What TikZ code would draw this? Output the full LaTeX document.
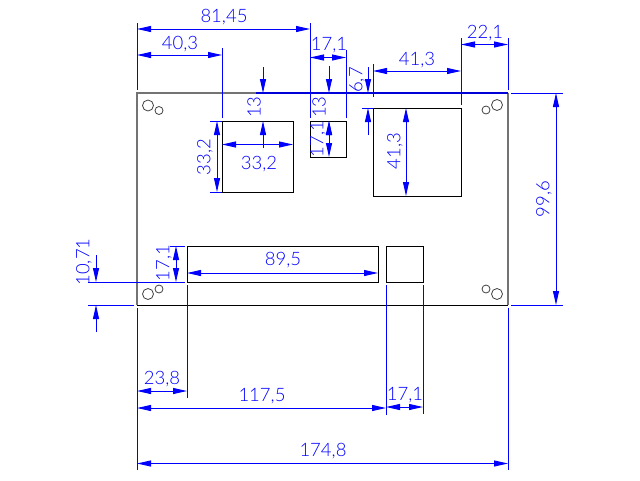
\documentclass[tikz,border=0pt]{standalone}
\usepackage{fontspec}
\setmainfont{Lato Light}
\usetikzlibrary{arrows.meta}
\tikzset{
  dimline/.style={blue,line width=1pt,{Triangle[length=14pt,width=6pt]}-{Triangle[length=14pt,width=6pt]}},
  leader/.style={blue,line width=1pt,-{Triangle[length=14pt,width=6pt]}},
  extline/.style={blue,line width=1pt},
  part/.style={black,line width=1pt},
  hole/.style={black!75,line width=0.8pt},
  dimtext/.style={blue,font=\fontsize{18.5}{19}\selectfont,inner sep=0pt},
  dimvert/.style={dimtext,rotate=90}
}
\begin{document}
\begin{tikzpicture}[x=1pt,y=-1pt]
\useasboundingbox (0,0) rectangle (640,480);
% board
\draw[black!55,line width=1.2pt] (137,305) -- (137,93) -- (256,93);
\draw[black!55,line width=1.2pt] (508,93) -- (508,305);
\draw[part] (137,305) -- (508,305);
\draw[blue!85!black,line width=1.2pt] (256,93) -- (508,93);
% parts
\draw[part] (222,121) rectangle (293,192);
\draw[part] (310,121) rectangle (346,157);
\draw[part] (373,108) rectangle (461,196);
\draw[part] (187,246) rectangle (378,282);
\draw[part] (386,246) rectangle (423,282);
% mounting holes
\foreach \xa/\ya/\xb/\yb in {148/105.5/159/110.5, 497/105/486/110, 148/294/159/289, 497/294/486/289}{
  \draw[hole] (\xa,\ya) circle (5.5);
  \draw[hole] (\xb,\yb) circle (4);
}
% extension lines top
\draw[extline] (137,23) -- (137,90);
\draw[extline] (310,23) -- (310,118);
\draw[extline] (222,48) -- (222,118);
\draw[extline] (346,50) -- (346,118);
\draw[extline] (373,64) -- (373,97);
\draw[extline] (461,38) -- (461,105);
\draw[extline] (508,38) -- (508,90);
% extension lines bottom
\draw[extline] (137,308) -- (137,470);
\draw[extline] (187,285) -- (187,398);
\draw[extline] (386,285) -- (386,415);
\draw[extline] (423,285) -- (423,414);
\draw[extline] (508,308) -- (508,470);
% extension lines sides
\draw[extline] (210,121) -- (222,121);
\draw[extline] (210,192) -- (222,192);
\draw[extline] (362,108) -- (373,108);
\draw[extline] (88,282) -- (185,282);
\draw[extline] (88,305) -- (134,305);
\draw[extline] (170,246) -- (185,246);
\draw[extline] (511,93) -- (563,93);
\draw[extline] (511,305) -- (563,305);
% horizontal dimensions
\draw[dimline] (137,29) -- (310,29);
\node[dimtext] (d8145) at (224,17) {81,45};
\draw[dimline] (137,55) -- (222,55);
\node[dimtext] (d403) at (180,44) {40,3};
\draw[dimline] (222,144.5) -- (293,144.5);
\node[dimtext] (d332h) at (259,164) {33,2};
\draw[dimline] (310,57.5) -- (346,57.5);
\node[dimtext] (d171a) at (329,45) {17,1};
\draw[dimline] (373,71) -- (461,71);
\node[dimtext] (d413h) at (417,60) {41,3};
\draw[dimline] (461,44.5) -- (508,44.5);
\node[dimtext] (d221) at (485,33) {22,1};
\draw[dimline] (187,273) -- (378,273);
\node[dimtext] (d895) at (283,260) {89,5};
\draw[dimline] (137,391) -- (187,391);
\node[dimtext] (d238) at (162,379) {23,8};
\draw[dimline] (137,408) -- (386,408);
\node[dimtext] (d1175) at (262,396) {117,5};
\draw[dimline] (386,407) -- (423,407);
\node[dimtext] (d171b) at (405,395) {17,1};
\draw[dimline] (137,463.5) -- (508,463.5);
\node[dimtext] (d1748) at (323,451) {174,8};
% vertical dimensions
\draw[dimline] (217,121) -- (217,192);
\node[dimvert] (d332v) at (205,157) {33,2};
\draw[leader] (263,67) -- (263,93);
\draw[leader] (263,148) -- (263,121);
\node[dimvert] (d13a) at (254,107) {13};
\draw[leader] (329,66) -- (329,93);
\draw[leader] (329,147) -- (329,121);
\node[dimvert] (d13b) at (319,107) {13};
\draw[dimline] (329,121) -- (329,157);
\node[dimvert] (d171c) at (318,139) {17,1};
\draw[leader] (368,67) -- (368,93);
\draw[leader] (368,135) -- (368,108);
\node[dimvert] (d67) at (357,80) {6,7};
\draw[dimline] (406,108) -- (406,196);
\node[dimvert] (d413v) at (395,151) {41,3};
\draw[dimline] (556,93) -- (556,305);
\node[dimvert] (d996) at (544,199) {99,6};
\draw[leader] (96,255) -- (96,282);
\draw[leader] (96,332) -- (96,305);
\node[dimvert] (d1071) at (84,262) {10,71};
\draw[dimline] (176,246) -- (176,282);
\node[dimvert] (d171d) at (164,263) {17,1};
\end{tikzpicture}
\end{document}
